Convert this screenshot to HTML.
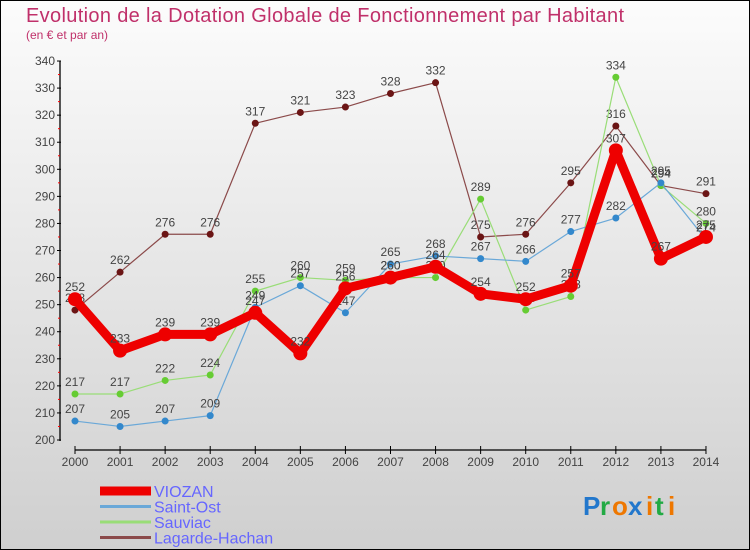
<!DOCTYPE html>
<html><head><meta charset="utf-8"><style>
body{margin:0;width:750px;height:550px;overflow:hidden;font-family:"Liberation Sans",sans-serif}
svg{display:block}
</style></head><body>
<svg id="c" width="750" height="550">
<defs><linearGradient id="bg" x1="0" y1="0" x2="0" y2="1"><stop offset="0" stop-color="#fcfcfc"/><stop offset="1" stop-color="#cfcfcf"/></linearGradient></defs>
<rect x="0.5" y="0.5" width="749" height="549" fill="url(#bg)" stroke="#000"/>
<text x="26" y="22" font-size="20" fill="#c0306a" textLength="598">Evolution de la Dotation Globale de Fonctionnement par Habitant</text>
<text x="26" y="39" font-size="12" fill="#c0306a">(en € et par an)</text>
<g id="axes"></g><g id="series"></g><g id="legend"></g>
<g font-size="26" font-weight="bold">
<text x="583" y="515" fill="#2277cc">P</text><text x="600" y="515" fill="#22aa44">r</text><text x="612" y="515" fill="#ee7700">o</text><text x="628" y="515" fill="#2277cc">x</text><text x="646" y="515" fill="#ee7700">i</text><text x="655" y="515" fill="#22aa44">t</text><text x="668" y="515" fill="#ee7700">i</text>
</g>
</svg>
<script>
const years=[2000,2001,2002,2003,2004,2005,2006,2007,2008,2009,2010,2011,2012,2013,2014];
const viozan=[252,233,239,239,247,232,256,260,264,254,252,257,307,267,275];
const saintOst=[207,205,207,209,249,257,247,265,268,267,266,277,282,295,274];
const sauviac=[217,217,222,224,255,260,259,260,260,289,248,253,334,294,280];
const lagarde=[248,262,276,276,317,321,323,328,332,275,276,295,316,294,291];
const yTicks=[200,210,220,230,240,250,260,270,280,290,300,310,320,330,340];
const NS='http://www.w3.org/2000/svg';
const x=i=>75+i*45.07;
const y=v=>440-(v-200)*2.707;
function mk(tag,attrs,parent,txt){const e=document.createElementNS(NS,tag);for(const k in attrs)e.setAttribute(k,attrs[k]);if(txt!==undefined)e.textContent=txt;parent.appendChild(e);return e;}
const ax=document.getElementById('axes');
const yl=mk('line',{x1:60,y1:y(340),x2:60,y2:441,stroke:'#000','stroke-width':1.3},ax);


yTicks.forEach(t=>{
 mk('line',{x1:57,x2:61,y1:y(t),y2:y(t),stroke:'#000'},ax);
 if(t<340)mk('line',{x1:58,x2:60,y1:y(t+5),y2:y(t+5),stroke:'#f00'},ax);
 const tl=mk('text',{x:55,y:y(t)+4,'font-size':12,fill:'#444','text-anchor':'end'},ax,t);
 
 
});
const xl=mk('line',{x1:75,x2:x(14),y1:450,y2:450,stroke:'#000','stroke-width':1.3},ax);


years.forEach((yr,i)=>{
 mk('line',{x1:x(i),x2:x(i),y1:446,y2:454,stroke:'#000'},ax);
 const tl=mk('text',{x:x(i),y:466,'font-size':12,fill:'#444','text-anchor':'middle'},ax,yr);
 
 
});
const sg=document.getElementById('series');
const defs=[
 {name:'Lagarde-Hachan',d:lagarde,c:'#8b4a4a',dot:'#6b1515',w:1.2,r:3.5},
 {name:'Sauviac',d:sauviac,c:'#99dd77',dot:'#66cc33',w:1.2,r:3.5},
 {name:'Saint-Ost',d:saintOst,c:'#6aa8d8',dot:'#3388cc',w:1.2,r:3.5},
 {name:'VIOZAN',d:viozan,c:'#ee0000',dot:'#ee0000',w:9,r:7}
];
defs.forEach(s=>{
 const g=mk('g',{},sg);
 
 
 const p=mk('polyline',{points:s.d.map((v,i)=>x(i)+','+y(v)).join(' '),fill:'none',stroke:s.c,'stroke-width':s.w,'stroke-linejoin':'round'},g);
 
 
 s.d.forEach((v,i)=>{
  const c=mk('circle',{cx:x(i),cy:y(v),r:s.r,fill:s.dot},g);
  
  
  const t=mk('text',{x:x(i),y:y(v)-8,'font-size':12,fill:'#444','text-anchor':'middle'},g,v);
  
  
 });
});
const lg=document.getElementById('legend');
defs.slice().reverse().forEach((s,i)=>{
 const yy=491+i*15.5;
 const g=mk('g',{},lg);
 
 
 mk('line',{x1:100,x2:151,y1:yy,y2:yy,stroke:s.c,'stroke-width':s.name==='VIOZAN'?9:3},g);
 mk('text',{x:154,y:yy+6,'font-size':16,fill:'#6666ff'},g,s.name);
});
</script>
</body></html>
